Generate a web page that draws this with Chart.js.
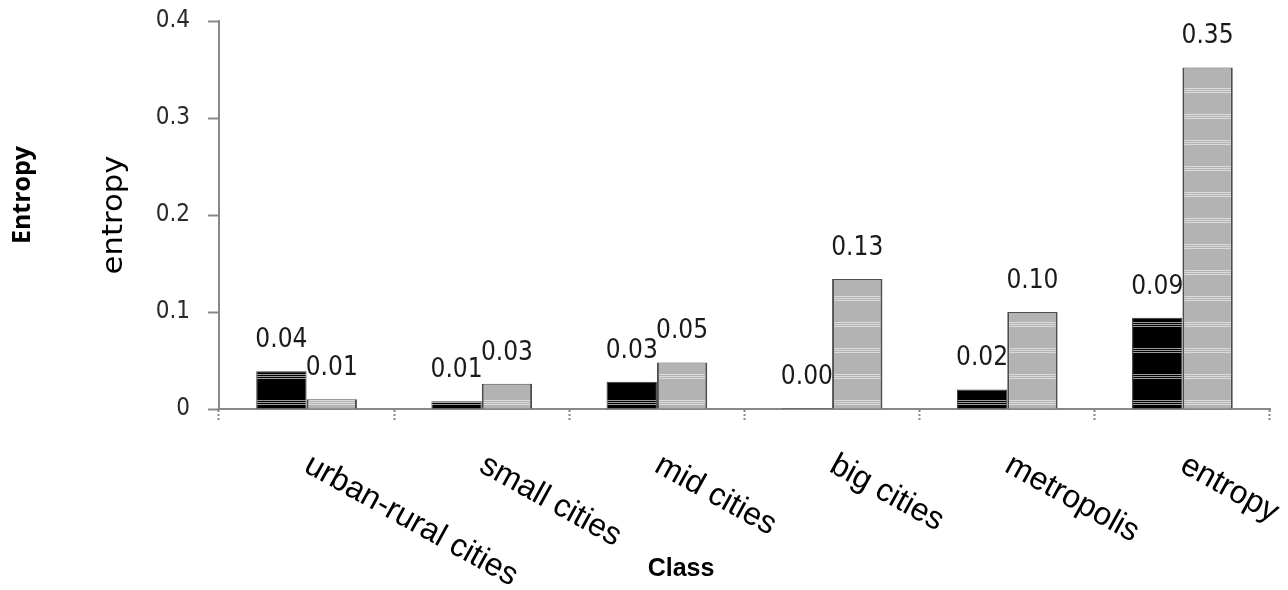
<!DOCTYPE html>
<html lang="en">
<head>
  <meta charset="UTF-8">
  <title>Entropy by Class</title>
  <script src="https://cdn.jsdelivr.net/npm/chart.js"></script>
  <style>
    body { margin: 0; background: #fff; }
    canvas { display: block; }
  </style>
</head>
<body>
  <canvas id="entropyChart" width="1288" height="590"></canvas>

  <script>
    const classes = ['urban-rural cities', 'small cities', 'mid cities', 'big cities', 'metropolis', 'entropy'];
    const darkValues = [0.039, 0.008, 0.028, 0.001, 0.020, 0.094];
    const lightValues = [0.010, 0.026, 0.048, 0.134, 0.100, 0.352];
    const yTicks = [0, 0.1, 0.2, 0.3, 0.4];

    const numFont = '"DejaVu Sans Condensed", "Liberation Sans Narrow", "DejaVu Sans"';

    // striped fills, like the scanned bars
    function stripes(base, band) {
      const c = document.createElement('canvas');
      c.width = 4; c.height = 26;
      const g = c.getContext('2d');
      g.fillStyle = base; g.fillRect(0, 0, 4, 26);
      g.fillStyle = band; g.fillRect(0, 10, 4, 1); g.fillRect(0, 12, 4, 1); g.fillRect(0, 14, 4, 1);
      return g.createPattern(c, 'repeat');
    }

    // labels above each bar, drawn from the bar elements
    const barLabels = {
      id: 'barLabels',
      afterDatasetsDraw(chart) {
        const ctx = chart.ctx;
        ctx.save();
        ctx.font = '26px ' + numFont;
        ctx.fillStyle = '#1a1a1a';
        ctx.textAlign = 'center';
        ctx.textBaseline = 'bottom';
        chart.data.datasets.forEach((ds, i) => {
          chart.getDatasetMeta(i).data.forEach((bar, j) => {
            ctx.fillText(ds.data[j].toFixed(2), bar.x, bar.y - 18);
          });
        });
        ctx.restore();
      }
    };

    // rotated category names and axis titles
    const axisText = {
      id: 'axisText',
      afterDraw(chart) {
        const ctx = chart.ctx;
        const x = chart.scales.x;
        ctx.save();
        ctx.fillStyle = '#000';
        ctx.font = '32px "Liberation Sans", Arial';
        ctx.textAlign = 'left';
        ctx.textBaseline = 'top';
        classes.forEach((c, i) => {
          ctx.save();
          ctx.translate(x.getPixelForValue(i) + 8, 449);
          ctx.rotate(29 * Math.PI / 180);
          ctx.fillText(c, 0, 0);
          ctx.restore();
        });

        ctx.textAlign = 'center';
        ctx.textBaseline = 'middle';
        ctx.font = 'bold 25px "Liberation Sans", Arial';
        ctx.fillText('Class', 681, 569);

        ctx.save();
        ctx.translate(23, 195);
        ctx.rotate(-Math.PI / 2);
        ctx.font = 'bold 25px "Open Sans", "Liberation Sans"';
        ctx.fillText('Entropy', 0, 0);
        ctx.restore();

        ctx.save();
        ctx.translate(114, 215);
        ctx.rotate(-Math.PI / 2);
        ctx.scale(1.06, 1);
        ctx.font = '29px "DejaVu Sans"';
        ctx.fillText('entropy', 0, 0);
        ctx.restore();
        ctx.restore();
      }
    };

    const chart = new Chart(document.getElementById('entropyChart'), {
      type: 'bar',
      data: {
        labels: classes,
        datasets: [
          {
            data: darkValues,
            backgroundColor: stripes('#000000', '#9a9a9a'),
            borderColor: '#3a3a3a',
            borderWidth: { left: 1, right: 1, top: 1, bottom: 0 },
            borderSkipped: false,
            barPercentage: 1.0,
            categoryPercentage: 0.575
          },
          {
            data: lightValues,
            backgroundColor: stripes('#b3b3b3', '#dcdcdc'),
            borderColor: '#4d4d4d',
            borderWidth: { left: 2, right: 2, top: 1, bottom: 0 },
            borderSkipped: false,
            barPercentage: 1.0,
            categoryPercentage: 0.575
          }
        ]
      },
      options: {
        responsive: false,
        animation: false,
        layout: { padding: { top: 21, right: 18, left: 0, bottom: 0 } },
        plugins: {
          legend: { display: false },
          tooltip: { enabled: false }
        },
        scales: {
          x: {
            grid: {
              drawOnChartArea: false,
              color: '#888',
              tickLength: 13,
              tickBorderDash: [2, 2],
              tickWidth: 2
            },
            border: { color: '#888', width: 2 },
            ticks: { display: false },
            afterFit(scale) { scale.height = 181; }
          },
          y: {
            min: 0,
            max: 0.4,
            afterBuildTicks(scale) { scale.ticks = yTicks.map(v => ({ value: v })); },
            grid: {
              drawOnChartArea: false,
              color: '#888',
              tickLength: 11,
              tickWidth: 2
            },
            border: { color: '#888', width: 2 },
            ticks: {
              padding: 18,
              color: '#2a2a2a',
              font: { family: numFont, size: 24 },
              callback: v => v === 0 ? '0' : v.toFixed(1)
            },
            afterFit(scale) {
              scale.width = 219;
              scale.paddingTop = 0;
              scale.paddingBottom = 0;
            }
          }
        }
      },
      plugins: [barLabels, axisText]
    });
  </script>
</body>
</html>
